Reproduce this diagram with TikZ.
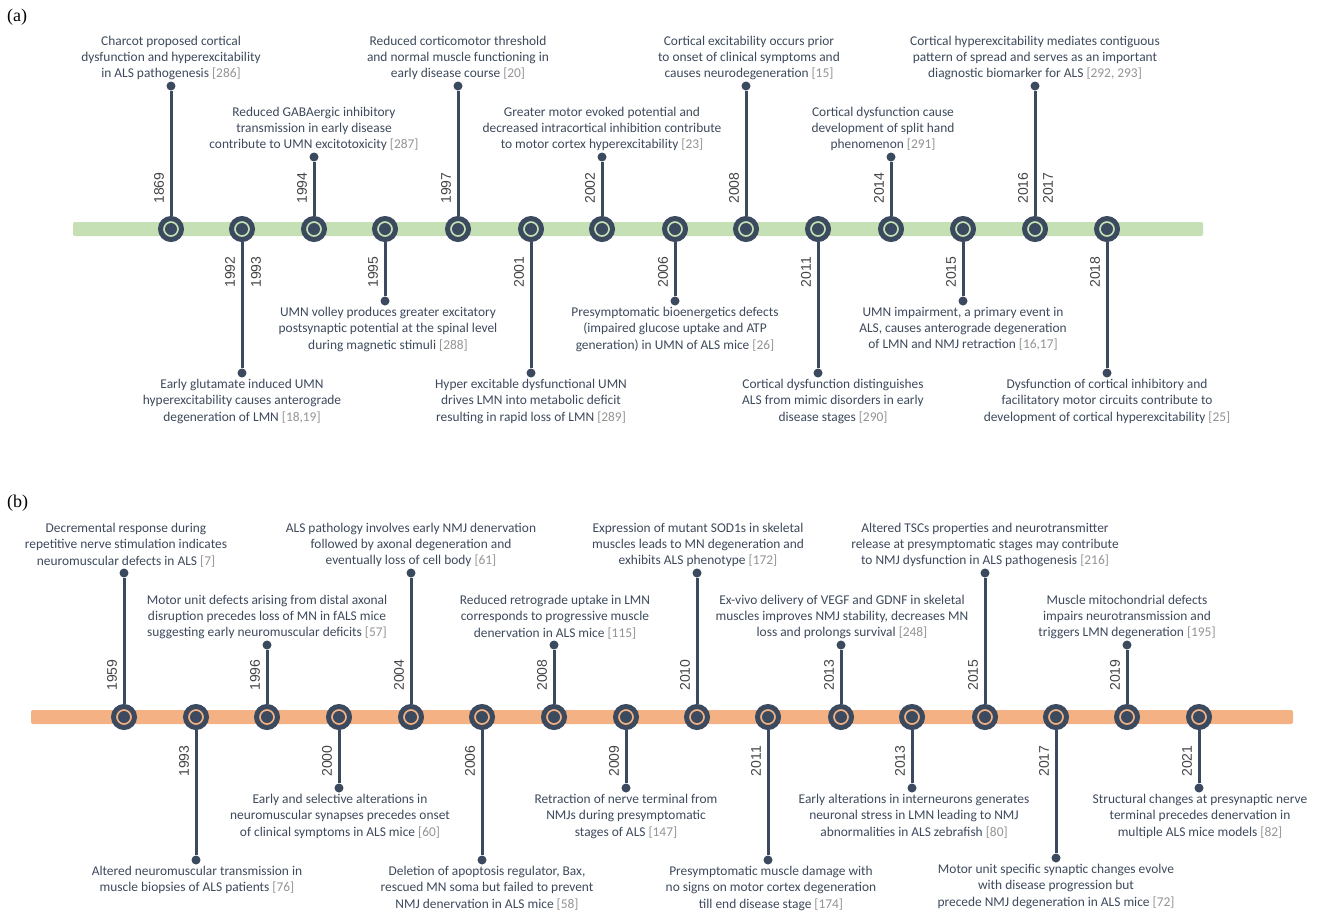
\documentclass[tikz,border=0pt]{standalone}
\usepackage{fontspec}
\setmainfont{Liberation Serif}
\newfontfamily\descfont{Carlito}
\newfontfamily\yearfont{Liberation Sans}
\usetikzlibrary{positioning}

\definecolor{barA}{HTML}{C5E0B4}
\definecolor{barB}{HTML}{F4B183}
\definecolor{stemcol}{HTML}{3B4A5E}
\definecolor{txtcol}{HTML}{3D4A5C}
\definecolor{citcol}{HTML}{949494}
\definecolor{yrcol}{HTML}{454545}

\newcommand{\desctext}{\descfont\fontsize{13.4}{16.4}\selectfont}
\newcommand{\yeartext}{\yearfont\fontsize{14}{16}\selectfont}
\newcommand{\cit}[1]{\textcolor{citcol}{[#1]}}

\begin{document}
\begin{tikzpicture}[x=1pt,y=-1pt,
  evring/.style={circle,draw=stemcol,line width=5pt,minimum size=21pt,inner sep=0pt},
  enddot/.style={circle,fill=stemcol,minimum size=9pt,inner sep=0pt},
  stemline/.style={stemcol,line width=3pt},
  desctxt/.style={font=\desctext,text=txtcol,align=center,inner sep=0pt},
  yearlbl/.style={font=\yeartext,text=yrcol,rotate=90,inner sep=0pt},
  panellbl/.style={font=\fontsize{18}{20}\selectfont,anchor=west,inner sep=0pt}]
\path[use as bounding box,fill=white] (0,0) rectangle (1318,914);

% (a) cortex
\node[panellbl] (lbla) at (7,17) {(a)};
\fill[barA,rounded corners=2pt] (73,222) rectangle (1203,236);
\foreach \i/\x/\d/\dx/\yr/\txt in {
  1/171/86/0/1869/{Charcot proposed cortical\\dysfunction and hyperexcitability\\in ALS pathogenesis \cit{286}},
  3/314/157/0/1994/{Reduced GABAergic inhibitory\\transmission in early disease\\contribute to UMN excitotoxicity \cit{287}},
  5/458/86/0/1997/{Reduced corticomotor threshold\\and normal muscle functioning in\\early disease course \cit{20}},
  7/602/157/0/2002/{Greater motor evoked potential and\\decreased intracortical inhibition contribute\\to motor cortex hyperexcitability \cit{23}},
  9/746/86/3/2008/{Cortical excitability occurs prior\\to onset of clinical symptoms and\\causes neurodegeneration \cit{15}},
  11/891/157/-8/2014/{Cortical dysfunction cause\\development of split hand\\phenomenon \cit{291}},
  13/1035/86/0/2016/{Cortical hyperexcitability mediates contiguous\\pattern of spread and serves as an important\\diagnostic biomarker for ALS \cit{292, 293}}}
  {\node[evring,fill=barA] (ea\i) at (\x,229) {};
   \fill[stemcol] (ea\i) circle (6);
   \node[enddot] (da\i) at (\x,\d) {};
   \draw[stemline] (ea\i.north) -- (da\i);
   \node[yearlbl] (ya\i) at (\x-12,188) {\yr};
   \node[desctxt,above=1pt of da\i,xshift=\dx pt] (ta\i) {\txt};}
\foreach \i/\x/\d/\dx/\yr/\txt in {
  2/242/373/0/1992/{Early glutamate induced UMN\\hyperexcitability causes anterograde\\degeneration of LMN \cit{18,19}},
  4/385/301/3/1995/{UMN volley produces greater excitatory\\postsynaptic potential at the spinal level\\during magnetic stimuli \cit{288}},
  6/531/373/0/2001/{Hyper excitable dysfunctional UMN\\drives LMN into metabolic deficit\\resulting in rapid loss of LMN \cit{289}},
  8/675/301/0/2006/{Presymptomatic bioenergetics defects\\(impaired glucose uptake and ATP\\generation) in UMN of ALS mice \cit{26}},
  10/818/373/15/2011/{Cortical dysfunction distinguishes\\ALS from mimic disorders in early\\disease stages \cit{290}},
  12/963/301/0/2015/{UMN impairment, a primary event in\\ALS, causes anterograde degeneration\\of LMN and NMJ retraction \cit{16,17}},
  14/1107/373/0/2018/{Dysfunction of cortical inhibitory and\\facilitatory motor circuits contribute to\\development of cortical hyperexcitability \cit{25}}}
  {\node[evring,fill=barA] (ea\i) at (\x,229) {};
   \fill[stemcol] (ea\i) circle (6);
   \node[enddot] (da\i) at (\x,\d) {};
   \draw[stemline] (ea\i.south) -- (da\i);
   \node[yearlbl] (ya\i) at (\x-12,272) {\yr};
   \node[desctxt,below=1pt of da\i,xshift=\dx pt] (ta\i) {\txt};}
\node[yearlbl] (ya2b) at (256,272) {1993};
\node[yearlbl] (ya13b) at (1048,188) {2017};

% (b) neuromuscular junction
\node[panellbl] (lblb) at (7,503) {(b)};
\fill[barB,rounded corners=2pt] (31,710) rectangle (1293,724);
\foreach \i/\x/\d/\dx/\yr/\txt in {
  1/124/573/2/1959/{Decremental response during\\repetitive nerve stimulation indicates\\neuromuscular defects in ALS \cit{7}},
  3/267/645/0/1996/{Motor unit defects arising from distal axonal\\disruption precedes loss of MN in fALS mice\\suggesting early neuromuscular deficits \cit{57}},
  5/411/573/0/2004/{ALS pathology involves early NMJ denervation\\followed by axonal degeneration and\\eventually loss of cell body \cit{61}},
  7/554/645/1/2008/{Reduced retrograde uptake in LMN\\corresponds to progressive muscle\\denervation in ALS mice \cit{115}},
  9/697/573/1/2010/{Expression of mutant SOD1s in skeletal\\muscles leads to MN degeneration and\\exhibits ALS phenotype \cit{172}},
  11/841/645/1/2013/{Ex-vivo delivery of VEGF and GDNF in skeletal\\muscles improves NMJ stability, decreases MN\\loss and prolongs survival \cit{248}},
  13/985/573/0/2015/{Altered TSCs properties and neurotransmitter\\release at presymptomatic stages may contribute\\to NMJ dysfunction in ALS pathogenesis \cit{216}},
  15/1127/645/0/2019/{Muscle mitochondrial defects\\impairs neurotransmission and\\triggers LMN degeneration \cit{195}}}
  {\node[evring,fill=barB] (eb\i) at (\x,717) {};
   \fill[stemcol] (eb\i) circle (6);
   \node[enddot] (db\i) at (\x,\d) {};
   \draw[stemline] (eb\i.north) -- (db\i);
   \node[yearlbl] (yb\i) at (\x-12,675) {\yr};
   \node[desctxt,above=1pt of db\i,xshift=\dx pt] (tb\i) {\txt};}
\foreach \i/\x/\d/\dx/\yr/\txt in {
  2/196/860/1/1993/{Altered neuromuscular transmission in\\muscle biopsies of ALS patients \cit{76}},
  4/339/788/1/2000/{Early and selective alterations in\\neuromuscular synapses precedes onset\\of clinical symptoms in ALS mice \cit{60}},
  6/482/860/5/2006/{Deletion of apoptosis regulator, Bax,\\rescued MN soma but failed to prevent\\NMJ denervation in ALS mice \cit{58}},
  8/626/788/0/2009/{Retraction of nerve terminal from\\NMJs during presymptomatic\\stages of ALS \cit{147}},
  10/768/860/3/2011/{Presymptomatic muscle damage with\\no signs on motor cortex degeneration\\till end disease stage \cit{174}},
  12/912/788/2/2013/{Early alterations in interneurons generates\\neuronal stress in LMN leading to NMJ\\abnormalities in ALS zebrafish \cit{80}},
  14/1056/858/0/2017/{Motor unit specific synaptic changes evolve\\with disease progression but\\precede NMJ degeneration in ALS mice \cit{72}},
  16/1199/788/1/2021/{Structural changes at presynaptic nerve\\terminal precedes denervation in\\multiple ALS mice models \cit{82}}}
  {\node[evring,fill=barB] (eb\i) at (\x,717) {};
   \fill[stemcol] (eb\i) circle (6);
   \node[enddot] (db\i) at (\x,\d) {};
   \draw[stemline] (eb\i.south) -- (db\i);
   \node[yearlbl] (yb\i) at (\x-12,761) {\yr};
   \node[desctxt,below=1pt of db\i,xshift=\dx pt] (tb\i) {\txt};}
\end{tikzpicture}
\end{document}
